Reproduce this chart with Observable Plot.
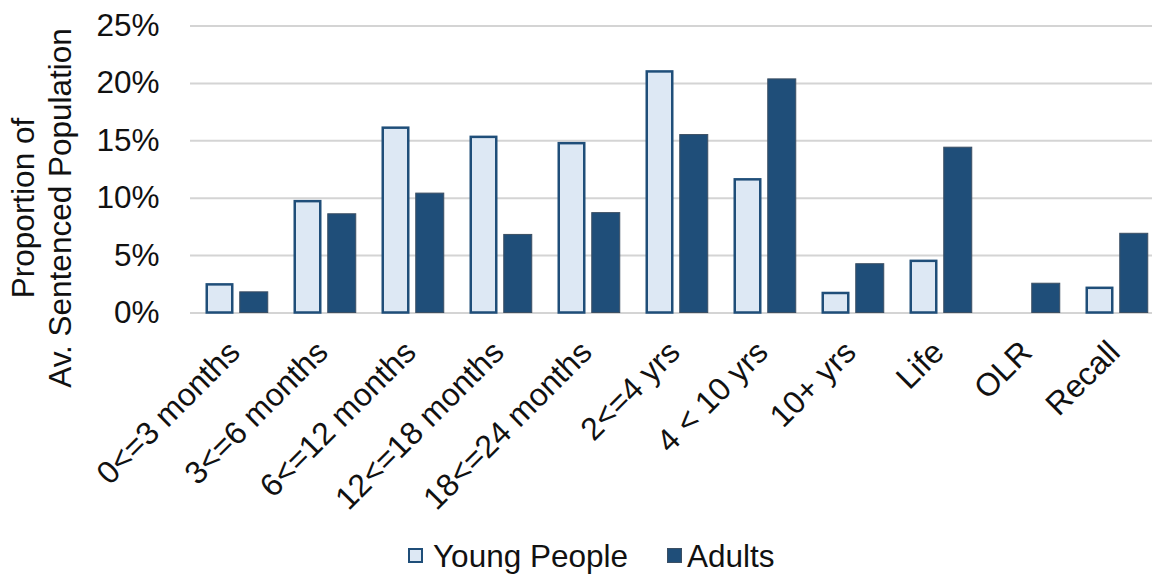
<!DOCTYPE html>
<html>
<head>
<meta charset="utf-8">
<script src="https://cdn.jsdelivr.net/npm/d3@7"></script>
<script src="https://cdn.jsdelivr.net/npm/@observablehq/plot@0.6"></script>
<style>
  html, body { margin: 0; padding: 0; background: #fff; overflow: hidden; }
  #chart { width: 1152px; }
  .legend { position: relative; width: 1152px; height: 44px; font-family: "Liberation Sans", Arial, sans-serif; font-size: 31.5px; color: #111; }
  .legend .swatch { position: absolute; top: 18px; width: 15px; height: 15px; box-sizing: border-box; }
  .legend .label { position: absolute; top: 8px; line-height: 36px; white-space: nowrap; }
</style>
</head>
<body>
<div id="chart"></div>
<div class="legend" id="legend"></div>
<script>
// Sentence length bands
const categories = ["0<=3 months", "3<=6 months", "6<=12 months", "12<=18 months", "18<=24 months",
  "2<=4 yrs", "4 < 10 yrs", "10+ yrs", "Life", "OLR", "Recall"];
// Share of the average sentenced population (%)
const youngPeople = [2.45, 9.7, 16.1, 15.3, 14.75, 21.0, 11.6, 1.7, 4.5, 0, 2.15];
const adults = [1.8, 8.6, 10.4, 6.8, 8.7, 15.5, 20.35, 4.25, 14.4, 2.55, 6.9];
const seriesNames = ["Young People", "Adults"];
const yTicks = [0, 0.05, 0.10, 0.15, 0.20, 0.25];

const colors = { light: "#dde8f4", dark: "#1f4e79", edge: "#3c4f63" };

const rows = categories.flatMap((c, i) => [
  { category: c, series: seriesNames[0], value: youngPeople[i] / 100 },
  { category: c, series: seriesNames[1], value: adults[i] / 100 }
]);

const chart = Plot.plot({
  width: 1152,
  height: 530,
  marginLeft: 190,
  marginRight: 0,
  marginTop: 25.5,
  marginBottom: 217.5,
  style: { fontFamily: "'Liberation Sans', Arial, sans-serif", fontSize: "31.5px", color: "#111", background: "#fff" },
  x: { type: "band", domain: categories, range: [190, 1163.5], padding: 0 },
  y: { domain: [0, 0.25] },
  marks: [
    Plot.ruleY(yTicks, { stroke: "#d4d4d4", strokeWidth: 2 }),
    Plot.barY(rows.filter(d => d.series === seriesNames[0] && d.value > 0), {
      x: "category", y: "value", fill: colors.light, stroke: colors.dark, strokeWidth: 2.5,
      insetLeft: 13.75, insetRight: 48.75
    }),
    Plot.barY(rows.filter(d => d.series === seriesNames[1] && d.value > 0), {
      x: "category", y: "value", fill: colors.dark, stroke: colors.edge, strokeWidth: 1,
      insetLeft: 46.75, insetRight: 13.25
    }),
    Plot.axisY({ ticks: yTicks, tickFormat: d3.format(".0%"), tickSize: 0, tickPadding: 31, label: null, fontSize: 31.5 }),
    Plot.axisX({ tickSize: 0, tickPadding: 34, tickRotate: -45, textAnchor: "end", lineAnchor: "middle", dx: -3, label: null, fontSize: 32 })
  ]
});

// Two-line y-axis title
const title = d3.select(chart).append("text")
  .attr("transform", "translate(0,208) rotate(-90)")
  .attr("text-anchor", "middle")
  .attr("font-size", 31.5)
  .attr("fill", "#111");
title.append("tspan").attr("x", 0).attr("y", 34).text("Proportion of");
title.append("tspan").attr("x", 0).attr("y", 71).text("Av. Sentenced Population");

document.getElementById("chart").append(chart);

// Legend below the chart
const legend = document.getElementById("legend");
const legendItems = [
  { name: seriesNames[0], left: 408, textLeft: 433, fill: colors.light, border: `2.5px solid ${colors.dark}` },
  { name: seriesNames[1], left: 667, textLeft: 687, fill: colors.dark, border: `1px solid ${colors.edge}` }
];
for (const item of legendItems) {
  const sw = document.createElement("span");
  sw.className = "swatch";
  sw.style.left = item.left + "px";
  sw.style.background = item.fill;
  sw.style.border = item.border;
  legend.append(sw);
  const lb = document.createElement("span");
  lb.className = "label";
  lb.style.left = item.textLeft + "px";
  lb.textContent = item.name;
  legend.append(lb);
}
</script>
</body>
</html>
